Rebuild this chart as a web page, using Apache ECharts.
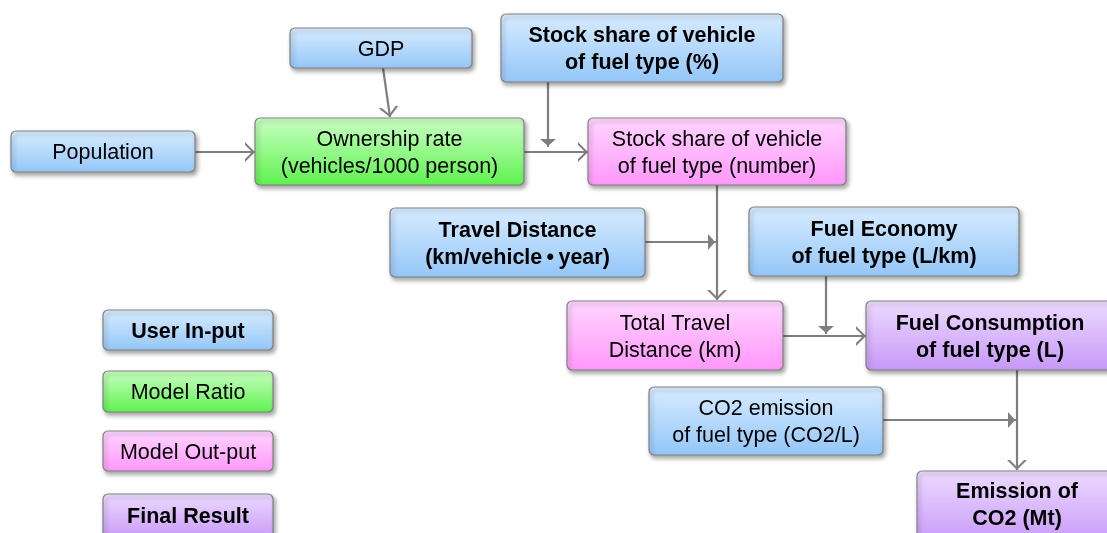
<!DOCTYPE html>
<html>
<head>
<meta charset="utf-8">
<title>Vehicle CO2 model flow</title>
<script src="https://cdn.jsdelivr.net/npm/echarts@6/dist/echarts.min.js"></script>
<style>
  html, body { margin: 0; padding: 0; background: #fff; }
  #chart { width: 1107px; height: 533px; }
</style>
</head>
<body>
<div id="chart"></div>
<script>
// box texts and what kind of box each one is (0 input, 1 ratio, 2 output, 3 result)
const boxNames = [
  'GDP',
  'Stock share of vehicle\nof fuel type (%)',
  'Population',
  'Ownership rate\n(vehicles/1000 person)',
  'Stock share of vehicle\nof fuel type (number)',
  'Travel Distance\n(km/vehicle\u2009•\u2009year)',
  'Fuel Economy\nof fuel type (L/km)',
  'Total Travel\nDistance (km)',
  'Fuel Consumption\nof fuel type (L)',
  'CO2 emission\nof fuel type (CO2/L)',
  'Emission of\nCO2 (Mt)'
]
const boxKinds = [0, 0, 0, 1, 2, 0, 0, 2, 3, 0, 3]
const legendNames = ['User In-put', 'Model Ratio', 'Model Out-put', 'Final Result']
const legendKinds = [0, 1, 2, 3]
// arrows: from box -> to box (or onto another arrow)
const arrowFrom = ['Population', 'GDP', 'Ownership rate', 'Stock share (%)', 'Stock share (number)', 'Travel Distance', 'Total Travel', 'Fuel Economy', 'Fuel Consumption', 'CO2 emission']
const arrowTo = ['Ownership rate', 'Ownership rate', 'Stock share (number)', 'arrow', 'Total Travel', 'arrow', 'Fuel Consumption', 'arrow', 'Emission of CO2', 'arrow']

// layout (pixel space of the 1107x533 picture)
const boxRect = [
  [290, 28, 472, 68], [501, 14, 783, 82], [11, 131, 195, 172], [255, 118, 524, 185],
  [588, 118, 846, 185], [390, 208, 645, 277], [749, 207, 1019, 276], [567, 301, 783, 370],
  [866, 301, 1114, 370], [649, 387, 883, 455], [917, 471, 1117, 545]
]
const boxBold = [false, true, false, false, false, true, true, false, true, false, true]
const legendRect = [[103, 310, 273, 350], [103, 371, 273, 412], [103, 431, 273, 471], [103, 494, 273, 540]]
const legendBold = [true, false, false, true]
const arrowPath = [
  [[195, 152], [255, 152]], [[383, 68], [390, 117]], [[524, 152], [588, 152]], [[548, 82], [548, 147]],
  [[717, 185], [717, 300]], [[645, 242], [716, 242]], [[783, 336], [866, 336]], [[826, 276], [826, 334]],
  [[1017, 370], [1017, 470]], [[883, 420], [1016, 420]]
]
const arrowOpen = [true, true, true, false, true, false, true, false, true, false]

const kindColors = [
  ['#d8ecff', '#93c6f8'],
  ['#caffc4', '#5ef24e'],
  ['#ffd6ff', '#ff97fb'],
  ['#eddbff', '#c797f8']
]

// tip of the head sits on the end point (a dummy point pads the box ahead)
const openHead = 'path://M6,0L6.01,0Z M0,20L6,10L12,20L10.2,20L6,12.9L1.8,20Z'
const solidHead = 'path://M5,0L5.01,0Z M0,18L5,10L10,18Z'

const shapes = boxNames.map((n, i) => ({ text: n, kind: boxKinds[i], rect: boxRect[i], bold: boxBold[i] }))
  .concat(legendNames.map((n, i) => ({ text: n, kind: legendKinds[i], rect: legendRect[i], bold: legendBold[i] })))

const chart = echarts.init(document.getElementById('chart'), null, { renderer: 'canvas' })

function renderBox(params, api) {
  const s = shapes[params.dataIndex]
  const p0 = api.coord([s.rect[0], s.rect[1]])
  const p1 = api.coord([s.rect[2], s.rect[3]])
  const c = kindColors[s.kind]
  // boxes cut by the bottom edge keep their text in the visible part
  const cut = p1[1] > api.coord([0, 533])[1]
  const yBottom = cut ? api.coord([0, 533])[1] + 3 : p1[1]
  return {
    type: 'group',
    children: [
      {
        type: 'rect',
        shape: { x: p0[0], y: p0[1], width: p1[0] - p0[0], height: p1[1] - p0[1], r: 5 },
        style: {
          fill: new echarts.graphic.LinearGradient(0, 0, 0, 1, [
            { offset: 0, color: c[0] },
            { offset: 1, color: c[1] }
          ]),
          stroke: '#828282',
          lineWidth: 1.2,
          shadowBlur: 4,
          shadowOffsetX: 2,
          shadowOffsetY: 3,
          shadowColor: 'rgba(0,0,0,0.35)'
        }
      },
      {
        type: 'text',
        style: {
          text: s.text,
          x: (p0[0] + p1[0]) / 2,
          y: (p0[1] + yBottom) / 2 + 2,
          align: 'center',
          verticalAlign: 'middle',
          fontSize: 21.5,
          fontWeight: s.bold ? 'bold' : 'normal',
          fontFamily: '"Liberation Sans", Arial, "Noto Sans CJK JP", sans-serif',
          lineHeight: 27,
          fill: '#000'
        }
      }
    ]
  }
}

const option = {
  animation: false,
  backgroundColor: '#fff',
  grid: { left: 0, right: 0, top: 0, bottom: 0 },
  xAxis: { type: 'value', min: 0, max: 1107, show: false },
  yAxis: { type: 'value', min: 0, max: 533, inverse: true, show: false },
  series: [
    {
      type: 'lines',
      coordinateSystem: 'cartesian2d',
      silent: true,
      z: 1,
      lineStyle: { color: '#7f7f7f', width: 2.2, opacity: 1 },
      data: arrowPath.map((p, i) => ({
        name: arrowFrom[i] + ' -> ' + arrowTo[i],
        coords: p,
        symbol: ['none', arrowOpen[i] ? openHead : solidHead],
        symbolSize: arrowOpen[i] ? [13, 20] : [9, 16]
      }))
    },
    {
      type: 'custom',
      z: 2,
      silent: true,
      renderItem: renderBox,
      data: shapes.map((s, i) => [i])
    }
  ]
}

chart.setOption(option)
window.addEventListener('resize', () => {
  chart.resize()
})
</script>
</body>
</html>
